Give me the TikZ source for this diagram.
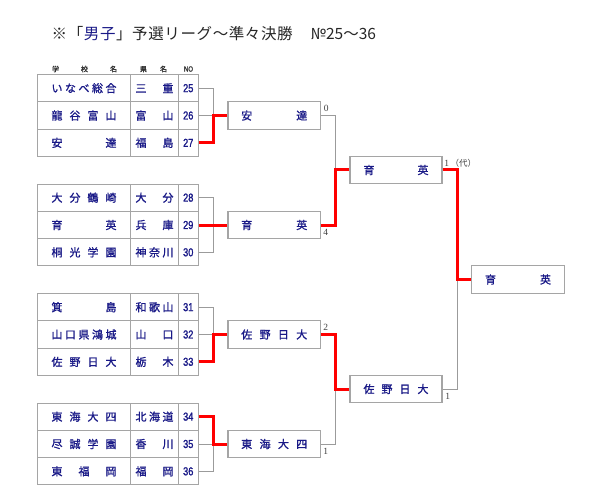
\documentclass[tikz,border=0pt]{standalone}
\usepackage{fontspec}
\setmainfont{Liberation Serif}
\newfontfamily\jp{Noto Sans CJK JP}
\newfontfamily\jpb[FakeBold=1.2]{Noto Sans CJK JP}
\newfontfamily\numfont[FakeStretch=0.8,FakeBold=1.5]{Liberation Sans}
\usetikzlibrary{calc}
\definecolor{tblue}{RGB}{25,25,135}
\definecolor{lgray}{RGB}{155,155,155}
\definecolor{bgray}{RGB}{165,165,165}
\definecolor{lred}{RGB}{255,0,0}
\makeatletter
\newcommand\spr[2]{\makebox[#1][s]{\def\spr@first{1}\@tfor\spr@c:=#2\do{\ifx\spr@first\@empty\hfill\fi\spr@c\let\spr@first\@empty}}}
\makeatother
\tikzset{
  cell/.style={draw=bgray, line width=1pt, minimum height=27.33pt, inner sep=0pt, font=\jpb\fontsize{11}{12}\selectfont, text=tblue},
  numcell/.style={cell, font=\numfont\fontsize{11.5}{12}\selectfont},
  mbox/.style={draw=bgray, line width=1.3pt, minimum width=92.5pt, minimum height=27.5pt, inner sep=0pt, fill=white, font=\jpb\fontsize{11}{12}\selectfont, text=tblue},
  gline/.style={draw=lgray, line width=1pt},
  rline/.style={draw=lred, line width=3pt},
  score/.style={font=\fontsize{9.5}{10}\selectfont, text=black!75, inner sep=0pt},
  hdr/.style={font=\jpb\fontsize{7}{8}\selectfont, text=black!80, inner sep=0pt}
}
\newcommand\teamrow[4]{%
  \node[cell, minimum width=93pt] (sc#4) at (84,#1) {\spr{65pt}{#2}};
  \node[cell, minimum width=48pt] (pr#4) at (154.5,#1) {\spr{38pt}{#3}};
  \node[numcell, minimum width=19.5pt] (n#4) at (188.25,#1) {#4};
}
\begin{document}
\begin{tikzpicture}[x=1pt,y=-1pt]
\useasboundingbox (0,0) rectangle (600,500);
\fill[white] (0,0) rectangle (600,500);
% title
\node[anchor=west, inner sep=0pt, font=\jp\fontsize{15.5}{16}\selectfont, text=black!85] (title) at (51.5,34)
 {\makebox[241pt][s]{※\hfill「\hfill\textcolor{tblue}{男}\hfill\textcolor{tblue}{子}\hfill」\hfill 予\hfill 選\hfill リ\hfill ー\hfill グ\hfill ～\hfill 準\hfill 々\hfill 決\hfill 勝}\hspace{18pt}№25～36};
% header
\node[hdr] (h1) at (84.5,69) {\spr{65pt}{学校名}};
\node[hdr] (h2) at (153.5,69) {\spr{27pt}{県名}};
\node[hdr, font=\numfont\fontsize{7.5}{8}\selectfont] (h3) at (188.5,69) {NO};
% teams
\teamrow{88.17}{いなべ総合}{三重}{25}
\teamrow{115.5}{龍谷富山}{富山}{26}
\teamrow{142.83}{安達}{福島}{27}
\teamrow{197.67}{大分鶴崎}{大分}{28}
\teamrow{225}{育英}{兵庫}{29}
\teamrow{252.33}{桐光学園}{神奈川}{30}
\teamrow{307.17}{箕島}{和歌山}{31}
\teamrow{334.5}{山口県鴻城}{山口}{32}
\teamrow{361.83}{佐野日大}{栃木}{33}
\teamrow{416.67}{東海大四}{北海道}{34}
\teamrow{444}{尽誠学園}{香川}{35}
\teamrow{471.33}{東福岡}{福岡}{36}
% match boxes
\node[mbox] (m1) at (274.25,115.5) {\spr{66pt}{安達}};
\node[mbox] (m2) at (274.25,225) {\spr{66pt}{育英}};
\node[mbox] (m3) at (274.25,334.5) {\spr{66pt}{佐野日大}};
\node[mbox] (m4) at (274.25,444) {\spr{66pt}{東海大四}};
\node[mbox, minimum width=92pt] (s1) at (396,170) {\spr{65pt}{育英}};
\node[mbox, minimum width=92pt] (s2) at (396,389) {\spr{65pt}{佐野日大}};
\node[mbox] (f) at (518,279.5) {\spr{66pt}{育英}};
% joints
\coordinate (g1) at (213,115.5);
\coordinate (g2) at (213,225);
\coordinate (g3) at (213,334.5);
\coordinate (g4) at (213,444);
\coordinate (j1) at (335,170);
\coordinate (j2) at (335,389);
\coordinate (j3) at (457,279.5);
% gray lines
\draw[gline] (n25.east) -| (g1) -- (n26.east);
\draw[gline] (n28.east) -| (g2);
\draw[gline] (n30.east) -| (g2);
\draw[gline] (n31.east) -| (g3) -- (n32.east);
\draw[gline] (n36.east) -| (g4) -- (n35.east);
\draw[gline] (m1.east) -| (j1);
\draw[gline] (m4.east) -| (j2);
\draw[gline] (s2.east) -| (j3);
% red lines
\draw[rline] (n27.east) -| (g1) -- (m1.west);
\draw[rline] (n29.east) -- (m2.west);
\draw[rline] (n33.east) -| (g3) -- (m3.west);
\draw[rline] (n34.east) -| (g4) -- (m4.west);
\draw[rline] (m2.east) -| (j1) -- (s1.west);
\draw[rline] (m3.east) -| (j2) -- (s2.west);
\draw[rline] (s1.east) -| (j3) -- (f.west);
% scores
\node[score] (sc1) at ($(m1.east)+(5,-7.5)$) {0};
\node[score] (sc2) at ($(m2.east)+(4.5,7.5)$) {4};
\node[score] (sc3) at ($(m3.east)+(4.5,-7.5)$) {2};
\node[score] (sc4) at ($(m4.east)+(4.5,7)$) {1};
\node[score, anchor=west] (sc5) at ($(s1.east)+(1.5,-7)$) {1\,{\jp\fontsize{8.5}{10}\selectfont （代）}};
\node[score] (sc6) at ($(s2.east)+(5,7)$) {1};
\end{tikzpicture}
\end{document}
